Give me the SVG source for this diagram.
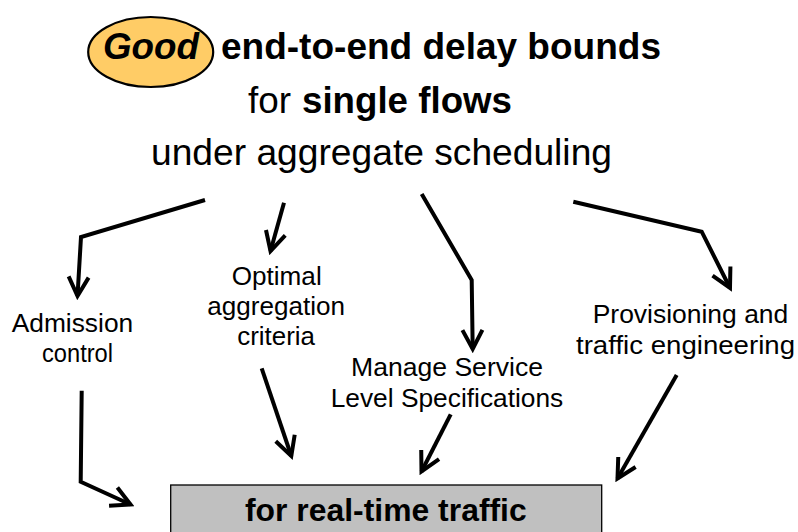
<svg xmlns="http://www.w3.org/2000/svg" width="798" height="532" viewBox="0 0 798 532">
  <style>
    .t { font-family: "Liberation Sans", Arial, sans-serif; fill: #000; }
    .big { font-size: 37px; }
    .lbl { font-size: 26px; }
    .b { font-weight: bold; }
    .conn { fill: none; stroke: #000; stroke-width: 4; stroke-linejoin: miter; stroke-miterlimit: 10; marker-end: url(#chev); }
  </style>
  <defs>
    <marker id="chev" markerUnits="userSpaceOnUse" viewBox="0 0 26 26" markerWidth="26" markerHeight="26" refX="22" refY="13" orient="auto">
      <path d="M3,3 L22,13 L3,23" fill="none" stroke="#000" stroke-width="4" stroke-linejoin="miter"/>
    </marker>
  </defs>
  <rect width="798" height="532" fill="#fff"/>

  <!-- title -->
  <g id="title">
    <ellipse cx="150.7" cy="52" rx="62.5" ry="35" fill="#FFCC66" stroke="#000" stroke-width="2.2"/>
    <text class="t big b" x="103" y="59" font-style="italic" textLength="96" lengthAdjust="spacingAndGlyphs">Good</text>
    <text class="t big b" x="221" y="58.5" textLength="440" lengthAdjust="spacingAndGlyphs">end-to-end delay bounds</text>
    <text class="t big" x="248" y="113.3" textLength="43" lengthAdjust="spacingAndGlyphs">for</text>
    <text class="t big b" x="302" y="113.3" textLength="210" lengthAdjust="spacingAndGlyphs">single flows</text>
    <text class="t big" x="151" y="165" textLength="461" lengthAdjust="spacingAndGlyphs">under aggregate scheduling</text>
  </g>

  <!-- topic nodes -->
  <g id="admission">
    <text class="t lbl" x="11.7" y="332" textLength="121.5" lengthAdjust="spacingAndGlyphs">Admission</text>
    <text class="t lbl" x="42" y="362" textLength="71" lengthAdjust="spacingAndGlyphs">control</text>
  </g>
  <g id="aggregation">
    <text class="t lbl" x="231.7" y="285" textLength="90" lengthAdjust="spacingAndGlyphs">Optimal</text>
    <text class="t lbl" x="207.3" y="314.5" textLength="137.7" lengthAdjust="spacingAndGlyphs">aggregation</text>
    <text class="t lbl" x="237.3" y="345" textLength="77.7" lengthAdjust="spacingAndGlyphs">criteria</text>
  </g>
  <g id="sls">
    <text class="t lbl" x="351" y="376" textLength="192" lengthAdjust="spacingAndGlyphs">Manage Service</text>
    <text class="t lbl" x="330.7" y="407.3" textLength="232.6" lengthAdjust="spacingAndGlyphs">Level Specifications</text>
  </g>
  <g id="provisioning">
    <text class="t lbl" x="592.7" y="323.3" textLength="195.6" lengthAdjust="spacingAndGlyphs">Provisioning and</text>
    <text class="t lbl" x="576" y="354" textLength="219" lengthAdjust="spacingAndGlyphs">traffic engineering</text>
  </g>

  <!-- target box -->
  <g id="realtime">
    <rect x="170.7" y="485" width="431" height="60" fill="#C0C0C0" stroke="#000" stroke-width="1.3"/>
    <text class="t b" font-size="32" x="245" y="520.5" textLength="281.7" lengthAdjust="spacingAndGlyphs">for real-time traffic</text>
  </g>

  <!-- connectors -->
  <g id="connectors">
    <polyline class="conn" points="205,200 81,237 77.5,296"/>
    <polyline class="conn" points="284,202.7 270.5,251"/>
    <polyline class="conn" points="421.7,194 471.7,280 472.7,349"/>
    <polyline class="conn" points="573.3,201.7 701.7,231.7 730,288"/>
    <polyline class="conn" points="81.7,390.7 80.7,481.7 130.5,504.5"/>
    <polyline class="conn" points="261.7,368.3 291.3,456"/>
    <polyline class="conn" points="450.7,414.3 421.5,471.5"/>
    <polyline class="conn" points="676.7,375 617.5,478.5"/>
  </g>
</svg>
